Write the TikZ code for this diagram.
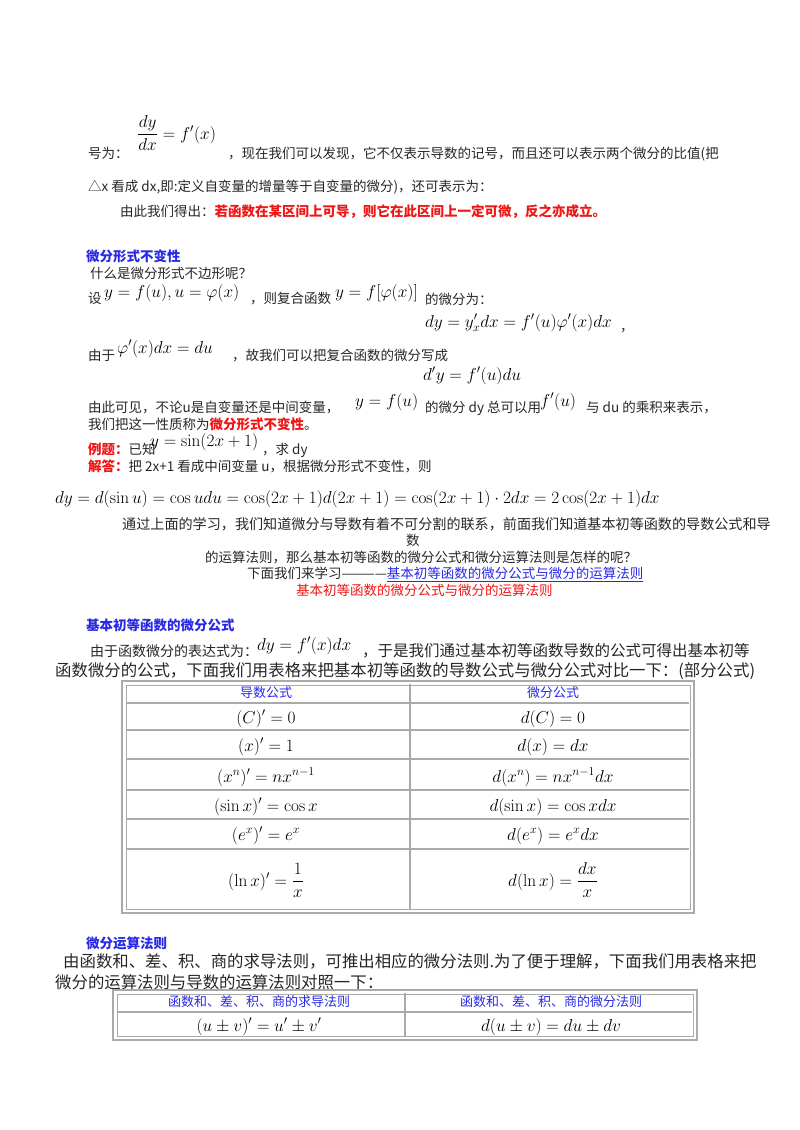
\documentclass[tikz,border=0pt]{standalone}
\usepackage{amsmath}
\usepackage[no-math]{fontspec}
\setmainfont{Noto Sans CJK SC}
\definecolor{lnk}{RGB}{40,40,230}
\definecolor{rd}{RGB}{240,20,20}
\definecolor{tg}{RGB}{170,170,170}
\begin{document}
\begin{tikzpicture}[x=1pt,y=-1pt,
 t/.style={anchor=base west,inner sep=0pt,font=\fontsize{13.5}{15}\selectfont,text=black!85},
 m/.style={anchor=base west,inner sep=0pt,font=\fontsize{18}{20}\selectfont},
 hd/.style={anchor=base west,inner sep=0pt,font=\fontsize{13.5}{15}\selectfont\bfseries,text=lnk},
 cf/.style={anchor=base,inner sep=0pt,font=\fontsize{17.5}{19}\selectfont},
 ch/.style={anchor=base,inner sep=0pt,font=\fontsize{13}{15}\selectfont,text=lnk},
 tl/.style={draw=tg,line width=2.5pt}]
\useasboundingbox (0,0) rectangle (800,1130);
% top
\node[m] (f1) at (137,139) {$\dfrac{dy}{dx}=f'(x)$};
\node[t] (a1) at (88,158) {号为：};
\node[t] (a2) at (228,158) {，现在我们可以发现，它不仅表示导数的记号，而且还可以表示两个微分的比值(把};
\node[t] (a3) at (88,191) {△x 看成 dx,即:定义自变量的增量等于自变量的微分)，还可表示为：};
\node[t] (a4) at (120,216) {由此我们得出：\textcolor{rd}{\bfseries 若函数在某区间上可导，则它在此区间上一定可微，反之亦成立。}};
% section 1
\node[hd] (h1) at (86,261) {微分形式不变性};
\node[t] (b1) at (90,278) {什么是微分形式不边形呢？};
\node[t] (b2) at (88,303) {设};
\node[m] (b3) at (104,297) {$y=f(u),u=\varphi(x)$};
\node[t] (b4) at (250,303) {，则复合函数};
\node[m] (b5) at (335,297) {$y=f[\varphi(x)]$};
\node[t] (b6) at (425,304) {的微分为：};
\node[m] (b7) at (425,327) {$dy=y'_x dx=f'(u)\varphi'(x)dx$};
\node[t] (b8) at (620,331) {，};
\node[t] (c1) at (88,360) {由于};
\node[m] (c2) at (117,353) {$\varphi'(x)dx=du$};
\node[t] (c3) at (232,360) {，故我们可以把复合函数的微分写成};
\node[m] (c4) at (423,380) {$d'y=f'(u)du$};
\node[t] (d1) at (88,412) {由此可见，不论u是自变量还是中间变量，};
\node[m] (d2) at (355,406) {$y=f(u)$};
\node[t] (d3) at (425,412) {的微分 dy 总可以用};
\node[m] (d4) at (540,406) {$f'(u)$};
\node[t] (d5) at (586,412) {与 du 的乘积来表示，};
\node[t] (d6) at (88,429) {我们把这一性质称为\textcolor{rd}{\bfseries 微分形式不变性}。};
\node[t] (e1) at (88,454) {\textcolor{rd}{\bfseries 例题：}已知};
\node[m] (e2) at (150,446) {$y=\sin(2x+1)$};
\node[t] (e3) at (262,454) {，求 dy};
\node[t] (e4) at (88,471) {\textcolor{rd}{\bfseries 解答：}把 2x+1 看成中间变量 u，根据微分形式不变性，则};
\node[m,font=\fontsize{17.5}{19}\selectfont] (e5) at (55,503) {$dy=d(\sin u)=\cos u du=\cos(2x+1)d(2x+1)=\cos(2x+1)\cdot 2dx=2\cos(2x+1)dx$};
\node[t,font=\fontsize{14.1}{16}\selectfont] (g1) at (122,529) {通过上面的学习，我们知道微分与导数有着不可分割的联系，前面我们知道基本初等函数的导数公式和导};
\node[t] (g2) at (406,545) {数};
\node[t] (g3) at (205,562) {的运算法则，那么基本初等函数的微分公式和微分运算法则是怎样的呢？};
\node[t] (g4) at (247,578) {下面我们来学习————\textcolor{lnk}{\underline{基本初等函数的微分公式与微分的运算法则}}};
\node[t,text=rd] (g5) at (296,595) {基本初等函数的微分公式与微分的运算法则};
% section 2
\node[hd] (h2) at (86,630) {基本初等函数的微分公式};
\node[t,font=\fontsize{14}{15}\selectfont] (k1) at (90,656) {由于函数微分的表达式为：};
\node[m] (k2) at (257,650) {$dy=f'(x)dx$};
\node[t,font=\fontsize{15.5}{16}\selectfont] (k3) at (362,656) {，于是我们通过基本初等函数导数的公式可得出基本初等};
\node[t,font=\fontsize{16.4}{17}\selectfont] (k4) at (55,676) {函数微分的公式，下面我们用表格来把基本初等函数的导数公式与微分公式对比一下：(部分公式)};
% table 1
\draw[draw=tg,line width=1.2pt] (122,681) rectangle (694,913);
\foreach \yy in {703,730,759,790,819,849} \draw[tl] (127,\yy) -- (689,\yy);
\draw[tl] (410,684) -- (410,910);
\draw[draw=tg,line width=1pt] (126,685) rectangle (690,909);
\node[ch] (th1) at (266,697) {导数公式};
\node[ch] (th2) at (553,697) {微分公式};
\node[cf] (l1) at (266,723) {$(C)'=0$};
\node[cf] (r1) at (553,723) {$d(C)=0$};
\node[cf] (l2) at (266,751) {$(x)'=1$};
\node[cf] (r2) at (553,751) {$d(x)=dx$};
\node[cf] (l3) at (266,782) {$(x^n)'=nx^{n-1}$};
\node[cf] (r3) at (553,782) {$d(x^n)=nx^{n-1}dx$};
\node[cf] (l4) at (266,811) {$(\sin x)'=\cos x$};
\node[cf] (r4) at (553,811) {$d(\sin x)=\cos x dx$};
\node[cf] (l5) at (266,840) {$(e^x)'=e^x$};
\node[cf] (r5) at (553,840) {$d(e^x)=e^x dx$};
\node[cf] (l6) at (266,886) {$(\ln x)'=\dfrac{1}{x}$};
\node[cf] (r6) at (553,886) {$d(\ln x)=\dfrac{dx}{x}$};
% section 3
\node[hd] (h3) at (86,948) {微分运算法则};
\node[t,font=\fontsize{16.4}{18}\selectfont] (n1) at (63,967) {由函数和、差、积、商的求导法则，可推出相应的微分法则.为了便于理解，下面我们用表格来把};
\node[t,font=\fontsize{16.4}{18}\selectfont] (n2) at (55,988) {微分的运算法则与导数的运算法则对照一下：};
\draw[draw=tg,line width=1.2pt] (113,990) rectangle (697,1040);
\draw[tl] (118,1012) -- (692,1012);
\draw[tl] (405,993) -- (405,1037);
\draw[draw=tg,line width=1pt] (117,994) rectangle (693,1036);
\node[ch] (s1) at (259,1006) {函数和、差、积、商的求导法则};
\node[ch] (s2) at (551,1006) {函数和、差、积、商的微分法则};
\node[cf] (s3) at (259,1031) {$(u\pm v)'=u'\pm v'$};
\node[cf] (s4) at (551,1031) {$d(u\pm v)=du\pm dv$};
\end{tikzpicture}
\end{document}
